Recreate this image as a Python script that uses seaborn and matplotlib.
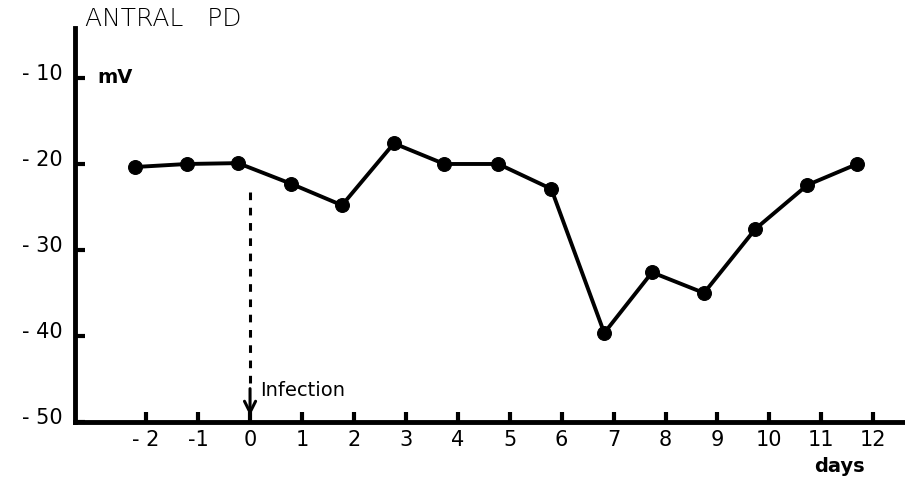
import matplotlib
matplotlib.use("Agg")
import matplotlib.pyplot as plt
import matplotlib.transforms as mtransforms
import seaborn as sns
import pandas as pd

# ---- data ----
days = [-2.21, -1.21, -0.23, 0.79, 1.77, 2.77, 3.74, 4.78, 5.80, 6.82, 7.74, 8.74, 9.73, 10.73, 11.69]
antral_pd = [-20.35, -20.0, -19.9, -22.3, -24.8, -17.6, -20.0, -20.0, -22.9, -39.65, -32.6, -35.0, -27.55, -22.45, -20.0]
x_ticks = list(range(-2, 13))
x_tick_labels = ["- 2", "-1", "0", "1", "2", "3", "4", "5", "6", "7", "8", "9", "10", "11", "12"]
y_ticks = [-10, -20, -30, -40, -50]
y_tick_labels = ["- 10", "- 20", "- 30", "- 40", "- 50"]
infection_day = 0
infection_line_top = -23.2

df = pd.DataFrame({"day": days, "pd": antral_pd})

sns.set_theme(style="white")
plt.rcParams["font.family"] = ["DejaVu Sans"]
plt.rcParams["text.color"] = "black"

fig = plt.figure(figsize=(9.05, 4.87), dpi=100)
ax = fig.add_axes([75 / 905, 65 / 487, 1 - 75 / 905, (422 - 28) / 487])

sns.lineplot(data=df, x="day", y="pd", ax=ax, color="black", linewidth=2.8,
             marker="o", markersize=10, markeredgecolor="black", markerfacecolor="black")

ax.set_xlim(-3.37, 12.61)
ax.set_ylim(-50, -4.19)

for s in ["top", "right"]:
    ax.spines[s].set_visible(False)
for s in ["left", "bottom"]:
    ax.spines[s].set_color("black")
    ax.spines[s].set_linewidth(3.5)

ax.set_xticks(x_ticks)
ax.set_xticklabels(x_tick_labels, fontsize=15)
ax.set_yticks(y_ticks)
ax.set_yticklabels(y_tick_labels, fontsize=15)
ax.tick_params(axis="both", which="major", direction="in", length=7, width=3,
               color="black", labelcolor="black", bottom=True, left=True)
ax.tick_params(axis="x", pad=6)
ax.tick_params(axis="y", pad=9)
ax.set_xlabel("")
ax.set_ylabel("")

offset = mtransforms.ScaledTranslation(0, 6 / 100, fig.dpi_scale_trans)
for lab in ax.get_yticklabels():
    lab.set_transform(lab.get_transform() + offset)

# infection marker: dashed line + arrow
ax.plot([infection_day, infection_day], [infection_line_top, -45.6], color="black",
        linestyle=(0, (2.5, 2.5)), linewidth=2.2)
ax.annotate("", xy=(infection_day, -49.6), xytext=(infection_day, -45.8),
            arrowprops=dict(arrowstyle="->", color="black", lw=2.2, mutation_scale=20))
ax.text(infection_day + 0.2, -46.3, "Infection", fontsize=14, ha="left", va="center", color="black")

fig.text(85 / 905, 1 - 19 / 487, "ANTRAL   PD", fontsize=18, ha="left", va="center",
         fontweight="light", color="black")
fig.text(97 / 905, 1 - 77 / 487, "mV", fontsize=14, ha="left", va="center", fontweight="bold", color="black")
fig.text(839 / 905, 1 - 467 / 487, "days", fontsize=14, ha="center", va="center", fontweight="bold", color="black")

fig.savefig("out.png", dpi=100, facecolor="white")
